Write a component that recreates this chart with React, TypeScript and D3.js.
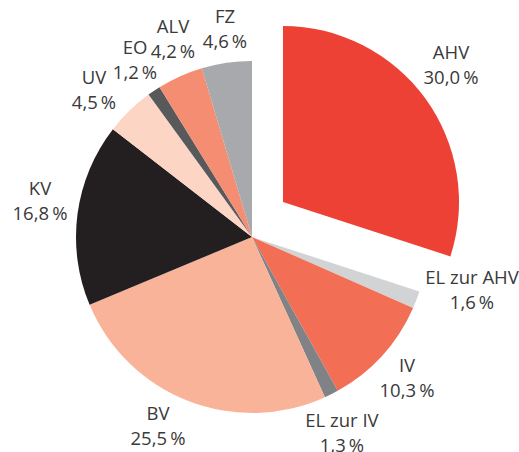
import React from "react";
import * as d3 from "d3";

const categories = ["AHV", "EL zur AHV", "IV", "EL zur IV", "BV", "KV", "UV", "EO", "ALV", "FZ"];
const values = [30.0, 1.6, 10.3, 1.3, 25.5, 16.8, 4.5, 1.2, 4.2, 4.6];
const valueLabels = ["30,0\u2009%", "1,6\u2009%", "10,3\u2009%", "1,3\u2009%", "25,5\u2009%", "16,8\u2009%", "4,5\u2009%", "1,2\u2009%", "4,2\u2009%", "4,6\u2009%"];
const colors = ["#EE4136", "#D1D3D4", "#F26E54", "#808285", "#F8B399", "#231F20", "#FCD5C5", "#58595B", "#F48D72", "#A7A9AC"];

// layout (label anchor: center x, first baseline y)
const labelPos: [number, number][] = [
  [451, 59], [472, 284], [407, 372], [342, 427], [158, 420],
  [40, 195], [94, 84], [135, 54], [173, 33], [225, 23],
];
const exploded: Record<number, [number, number]> = { 0: [31, -35] };

const W = 519, H = 452;
const cx = 252, cy = 237, R = 176;

export default function App() {
  const pie = d3.pie<number>().sort(null).value((d) => d).startAngle(0).endAngle(2 * Math.PI);
  const arcs = pie(values);
  const arcGen = d3.arc<d3.PieArcDatum<number>>().innerRadius(0).outerRadius(R);
  return (
    <svg width={W} height={H} style={{ position: "absolute", left: 0, top: 0, background: "#fff" }}>
      <g transform={`translate(${cx},${cy})`}>
        {arcs.map((a, i) => {
          const off = exploded[i] || [0, 0];
          return (
            <path key={i} d={arcGen(a) || ""} fill={colors[i]} transform={`translate(${off[0]},${off[1]})`} />
          );
        })}
      </g>
      {categories.map((c, i) => (
        <text key={c} x={labelPos[i][0]} y={labelPos[i][1]} textAnchor="middle"
          fontFamily="'Open Sans', sans-serif" fontSize={18.5} fill="#3a3a3a">
          <tspan x={labelPos[i][0]}>{c}</tspan>
          <tspan x={labelPos[i][0]} dy={25}>{valueLabels[i]}</tspan>
        </text>
      ))}
    </svg>
  );
}
